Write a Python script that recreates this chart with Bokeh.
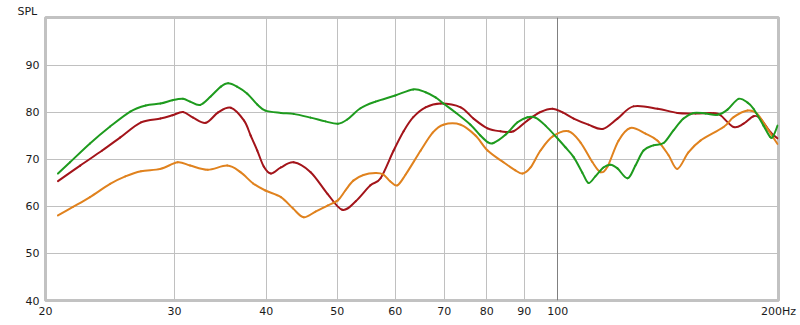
import math
from bokeh.plotting import figure
from bokeh.models import FixedTicker, Grid, Range1d
from bokeh.embed import file_html
from bokeh.resources import INLINE

# ---- data (frequency in Hz, SPL in dB) ----
green_f = [20.8, 21.6, 23.0, 24.5, 26.1, 27.4, 28.7, 29.8, 30.8, 31.5, 32.5, 33.6, 34.7, 35.5,
           36.5, 37.7, 38.9, 39.9, 41.9, 43.6, 46.0, 48.2, 50.1, 51.6, 53.8, 56.4, 60.0, 63.5,
           66.0, 68.1, 69.8, 72.5, 76.0, 78.4, 80.2, 81.7, 84.9, 88.1, 90.9, 93.2, 96.2, 100.0,
           102.4, 105.1, 108.0, 110.1, 112.5, 115.4, 118.0, 120.6, 124.5, 127.6, 130.9, 135.0,
           139.4, 143.8, 148.4, 153.1, 159.0, 165.1, 170.4, 176.4, 181.5, 184.9, 190.8, 195.0,
           196.9, 199.4]
green_db = [67.0, 69.4, 73.4, 77.0, 80.2, 81.5, 81.9, 82.6, 82.9, 82.3, 81.6, 83.4, 85.5, 86.2,
            85.5, 84.0, 81.7, 80.4, 79.9, 79.7, 78.9, 78.1, 77.6, 78.5, 80.9, 82.3, 83.6, 84.9,
            84.3, 83.2, 81.9, 80.0, 77.4, 75.1, 73.7, 73.5, 75.3, 77.9, 79.0, 78.9, 77.2, 74.4,
            72.6, 70.5, 67.2, 65.0, 66.4, 68.3, 68.9, 68.1, 66.0, 68.7, 71.9, 73.0,
            73.5, 76.2, 78.7, 79.9, 79.8, 79.5, 80.6, 82.9, 82.1, 80.8, 77.2, 74.7,
            75.1, 77.2]

red_f = [20.8, 22.3, 23.9, 25.3, 27.0, 28.7, 29.8, 30.8, 31.8, 33.1, 34.4, 35.8, 37.3, 38.1,
         38.9, 39.7, 40.6, 41.9, 43.6, 46.0, 48.5, 50.8, 53.0, 55.5, 57.3, 59.7, 61.6, 63.5,
         66.0, 69.2, 73.7, 76.7, 80.2, 83.5, 87.0, 90.9, 94.7, 98.4, 101.5, 105.1, 110.1,
         115.1, 120.6, 126.8, 136.8, 145.6, 154.1, 163.1, 166.7, 173.7, 179.2, 184.9, 188.9,
         195.0, 199.4]
red_db = [65.4, 68.7, 71.9, 74.7, 77.9, 78.7, 79.4, 80.1, 78.9, 77.8, 80.0, 81.0, 78.3, 75.1,
          71.9, 68.5, 67.0, 68.3, 69.4, 67.3, 62.7, 59.3, 61.1, 64.5, 66.0, 71.9, 76.0, 79.0,
          81.1, 81.9, 81.1, 78.7, 76.6, 76.0, 76.0, 78.3, 80.1, 80.8, 80.0, 78.7, 77.4,
          76.5, 78.7, 81.3, 80.8, 79.9, 79.8, 79.85, 79.4, 76.9, 77.6, 79.2, 78.7,
          75.8, 74.5]

orange_f = [20.8, 21.8, 23.0, 24.5, 25.7, 27.0, 28.7, 30.3, 31.5, 33.3, 35.4, 36.9, 38.4, 39.9,
            41.9, 43.5, 45.0, 46.7, 48.5, 50.1, 51.3, 52.6, 54.3, 56.4, 57.8, 59.1, 60.4, 62.0,
            65.0, 67.5, 69.8, 73.7, 77.2, 80.2, 84.3, 87.5, 89.5, 91.8, 94.7, 98.4, 103.4,
            107.4, 111.5, 114.4, 116.9, 121.0, 125.6, 131.7, 136.8, 141.6, 145.6, 150.7, 156.5,
            168.3, 173.7, 181.5, 187.1, 193.2, 199.4]
orange_db = [58.1, 59.9, 62.0, 64.8, 66.4, 67.5, 68.0, 69.4, 68.7, 67.8, 68.7, 67.3, 64.9, 63.4,
             62.0, 59.6, 57.7, 58.9, 60.2, 61.3, 63.4, 65.5, 66.7, 67.1, 66.8, 65.3, 64.5, 66.8,
             71.9, 75.7, 77.4, 77.4, 75.1, 71.9, 69.4, 67.7, 67.0, 68.3, 71.9, 74.9, 76.0,
             73.6, 69.4, 67.3, 68.5, 74.0, 76.7, 75.5, 74.0, 70.9, 68.0, 71.5, 74.0,
             76.9, 79.0, 80.4, 79.7, 76.5, 73.3]

x_ticks = [20, 30, 40, 50, 60, 70, 80, 90, 100, 200]
x_tick_labels = {20: "20", 30: "30", 40: "40", 50: "50", 60: "60", 70: "70",
                 80: "80", 90: "90", 100: "100", 200: "200Hz"}
y_ticks = [40, 50, 60, 70, 80, 90]
y_title = "SPL"

FONT = "DejaVu Sans"


def smooth_segments(fs, dbs):
    """Catmull-Rom control points (in log-frequency space) for a smooth curve
    drawn through the measured points with Bokeh's bezier glyph."""
    lx = [math.log10(f) for f in fs]
    n = len(fs)
    out = dict(x0=[], y0=[], x1=[], y1=[], cx0=[], cy0=[], cx1=[], cy1=[])
    for i in range(n - 1):
        a = max(i - 1, 0)
        d = min(i + 2, n - 1)
        c0x = lx[i] + (lx[i + 1] - lx[a]) / 6.0
        c0y = dbs[i] + (dbs[i + 1] - dbs[a]) / 6.0
        c1x = lx[i + 1] - (lx[d] - lx[i]) / 6.0
        c1y = dbs[i + 1] - (dbs[d] - dbs[i]) / 6.0
        out["x0"].append(fs[i]); out["y0"].append(dbs[i])
        out["x1"].append(fs[i + 1]); out["y1"].append(dbs[i + 1])
        out["cx0"].append(10 ** c0x); out["cy0"].append(c0y)
        out["cx1"].append(10 ** c1x); out["cy1"].append(c1y)
    return out


p = figure(width=800, height=325, x_axis_type="log", output_backend="svg",
           toolbar_location=None, x_range=Range1d(20, 200), y_range=Range1d(40, 100.2),
           min_border_left=45, min_border_right=22, min_border_top=17, min_border_bottom=25,
           title=y_title)
p.title.align = "left"
p.title.offset = -28
p.title.standoff = 0
p.title.text_font = FONT
p.title.text_font_size = "11px"
p.title.text_font_style = "normal"
p.title.text_color = "#1a1a1a"

p.background_fill_color = "white"
p.border_fill_color = "white"
p.outline_line_color = "#c2c2c2"
p.outline_line_width = 3

p.xaxis.ticker = FixedTicker(ticks=x_ticks)
p.xaxis.major_label_overrides = x_tick_labels
p.yaxis.ticker = FixedTicker(ticks=y_ticks)
for ax in (p.xaxis[0], p.yaxis[0]):
    ax.axis_line_color = None
    ax.major_tick_line_color = None
    ax.minor_tick_line_color = None
    ax.major_tick_in = 0
    ax.major_tick_out = 0
    ax.major_label_text_font = FONT
    ax.major_label_text_font_size = "11px"
    ax.major_label_text_color = "#1a1a1a"
p.xaxis.major_label_standoff = 4
p.yaxis.major_label_standoff = 6

p.xgrid.grid_line_color = "#c0c0c0"
p.ygrid.grid_line_color = "#c0c0c0"
p.add_layout(Grid(dimension=0, ticker=FixedTicker(ticks=[100]), grid_line_color="#808080"))

for fs, dbs, col in ((red_f, red_db, "#a3141a"),
                     (orange_f, orange_db, "#e0821e"),
                     (green_f, green_db, "#1e9b1e")):
    seg = smooth_segments(fs, dbs)
    p.bezier(x0=seg["x0"], y0=seg["y0"], x1=seg["x1"], y1=seg["y1"],
             cx0=seg["cx0"], cy0=seg["cy0"], cx1=seg["cx1"], cy1=seg["cy1"],
             line_color=col, line_width=2, line_cap="round")

open("out.html", "w").write(file_html(p, INLINE))
